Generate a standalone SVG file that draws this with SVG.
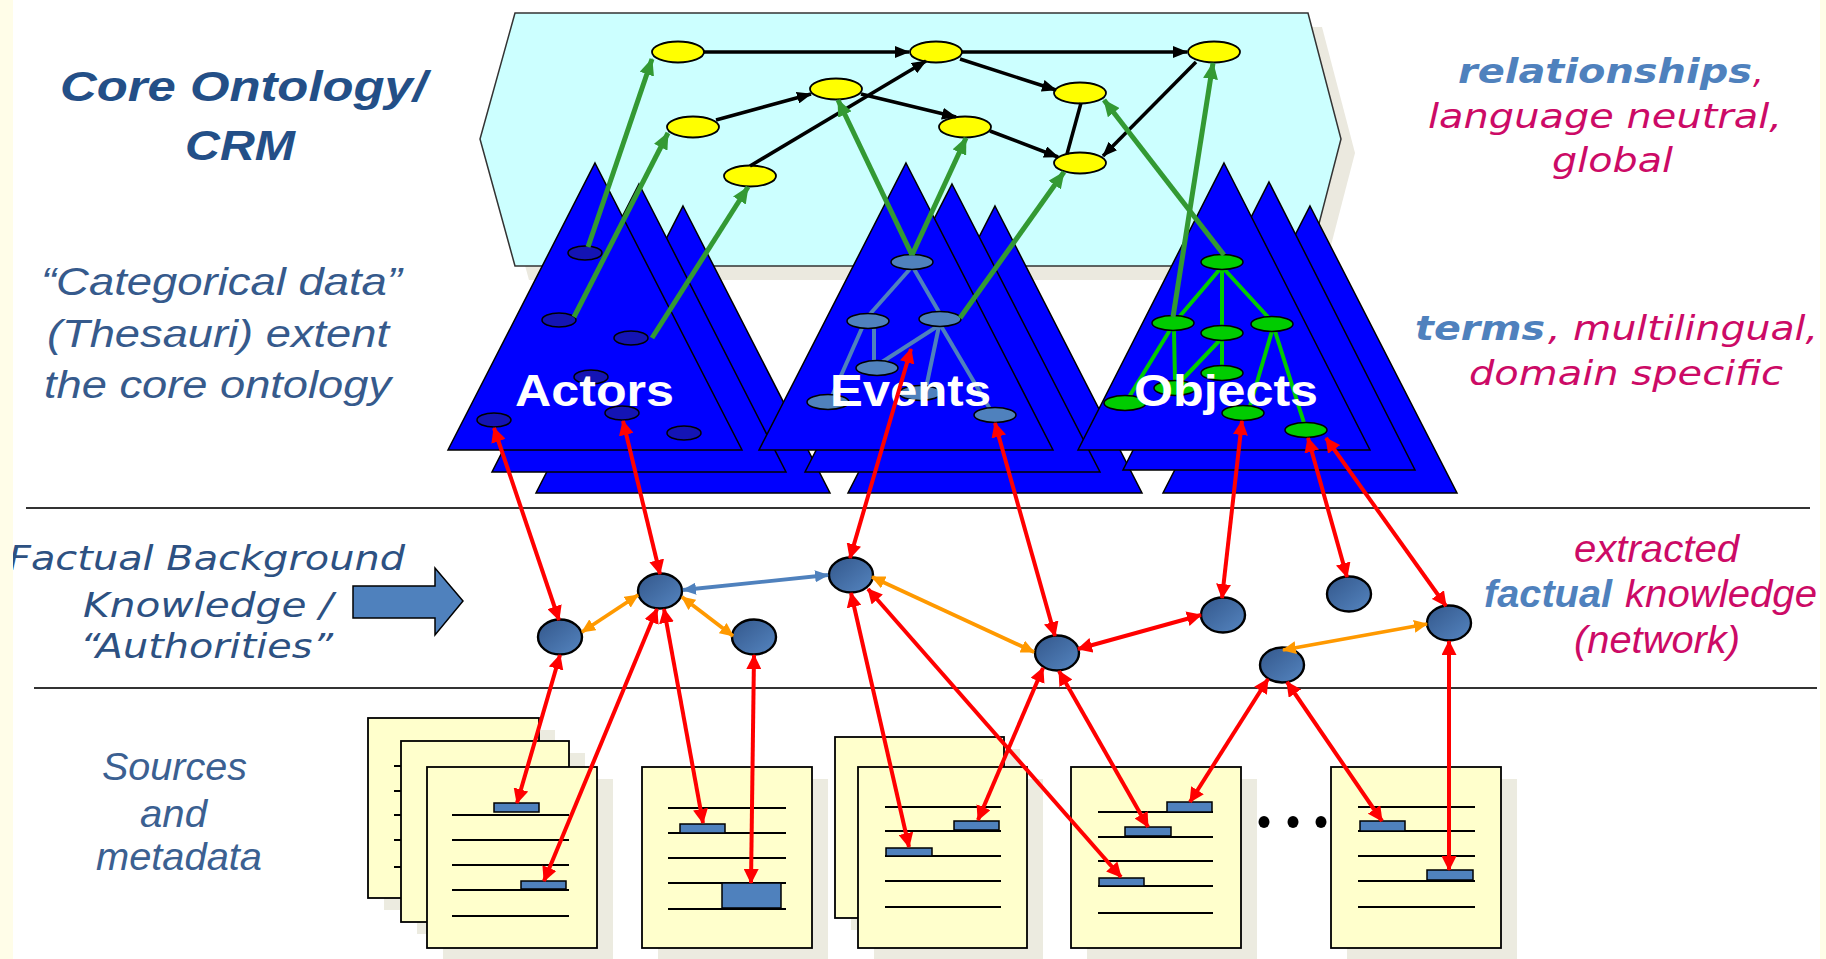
<svg xmlns="http://www.w3.org/2000/svg" width="1826" height="959" viewBox="0 0 1826 959">
<defs>
<style>
.tri{fill:#0000ff;stroke:#000;stroke-width:1.5;stroke-linejoin:miter}
.yel{fill:#ffff00;stroke:#000;stroke-width:1.8}
.an{fill:#1414b4;stroke:#000;stroke-width:1.5}
.en{fill:#4f81bd;stroke:#000;stroke-width:1.5}
.on{fill:#00cc00;stroke:#000;stroke-width:1.5}
.ee{stroke:#4f81bd;stroke-width:4;fill:none}
.oe{stroke:#00cc00;stroke-width:4;fill:none}
.mid{fill:url(#mg);stroke:#000;stroke-width:2.4}
.doc{fill:#ffffcc;stroke:#000;stroke-width:1.8}
.sh{fill:#ecebe0}
.dl{stroke:#000;stroke-width:2}
.bar{fill:#4f81bd;stroke:#000;stroke-width:1.5}
.red{stroke:#ff0000;stroke-width:4;fill:none;marker-start:url(#mr);marker-end:url(#mr)}
.org{stroke:#ff9900;stroke-width:3.8;fill:none;marker-start:url(#mo);marker-end:url(#mo)}
.blu{stroke:#4f81bd;stroke-width:3.8;fill:none;marker-start:url(#mb);marker-end:url(#mb)}
.grn{stroke:#339933;stroke-width:5;fill:none;marker-end:url(#mgr)}
.blk{stroke:#000;stroke-width:3.5;fill:none;marker-end:url(#mk)}
.blk0{stroke:#000;stroke-width:3.5;fill:none}
.ar{font-family:"Liberation Sans",Arial,sans-serif;font-style:italic}
.dv{font-family:"DejaVu Sans",Verdana,sans-serif;font-style:oblique;font-size:34px}
.lab{font-family:"Liberation Sans",Arial,sans-serif;font-weight:bold;font-size:44px;fill:#fff}
.mag{fill:#cc0a66}
.kb{fill:#4f81bd;font-weight:bold}
</style>
<linearGradient id="mg" x1="0" y1="0" x2="1" y2="1">
<stop offset="0" stop-color="#33578b"/>
<stop offset="1" stop-color="#5585c0"/>
</linearGradient>
<marker id="mr" viewBox="0 0 15 15" refX="14" refY="7.5" markerWidth="15" markerHeight="15" markerUnits="userSpaceOnUse" orient="auto-start-reverse"><path d="M0,0L15,7.5L0,15z" fill="#ff0000"/></marker>
<marker id="mo" viewBox="0 0 14 13" refX="13" refY="6.5" markerWidth="14" markerHeight="13" markerUnits="userSpaceOnUse" orient="auto-start-reverse"><path d="M0,0L14,6.5L0,13z" fill="#ff9900"/></marker>
<marker id="mb" viewBox="0 0 14 12" refX="13" refY="6" markerWidth="14" markerHeight="12" markerUnits="userSpaceOnUse" orient="auto-start-reverse"><path d="M0,0L14,6L0,12z" fill="#4f81bd"/></marker>
<marker id="mgr" viewBox="0 0 17 15" refX="16" refY="7.5" markerWidth="17" markerHeight="15" markerUnits="userSpaceOnUse" orient="auto"><path d="M0,0L17,7.5L0,15z" fill="#339933"/></marker>
<marker id="mk" viewBox="0 0 15 12" refX="14" refY="6" markerWidth="15" markerHeight="12" markerUnits="userSpaceOnUse" orient="auto"><path d="M0,0L15,6L0,12z" fill="#000"/></marker>
</defs>

<rect x="0" y="0" width="1826" height="959" fill="#ffffff"/>

<!-- core ontology box -->
<g id="core-box">
<polygon points="529,27 1322,27 1355,153 1322,280 529,280 494,153" fill="#ebe9df"/>
<polygon points="515,13 1308,13 1341,139 1308,266 515,266 480,139" fill="#ccffff" stroke="#333" stroke-width="1.5"/>
</g>

<!-- separators -->
<g id="separators" stroke="#333" stroke-width="2.2">
<line x1="26" y1="508" x2="1810" y2="508"/>
<line x1="34" y1="688" x2="1817" y2="688"/>
</g>

<!-- Actors -->
<g id="actors">
<polygon class="tri" points="683,206 830,493 536,493"/>
<polygon class="tri" points="639,184 786,472 492,472"/>
<polygon class="tri" points="595,163 742,450 448,450"/>
<ellipse class="an" cx="585" cy="253" rx="17" ry="7"/>
<ellipse class="an" cx="559" cy="320" rx="17" ry="7"/>
<ellipse class="an" cx="631" cy="338" rx="17" ry="7"/>
<ellipse class="an" cx="591" cy="377" rx="17" ry="7"/>
<ellipse class="an" cx="494" cy="420" rx="17" ry="7"/>
<ellipse class="an" cx="622" cy="413" rx="17" ry="7"/>
<ellipse class="an" cx="684" cy="433" rx="17" ry="7"/>
<text class="lab" x="515" y="406" textLength="159" lengthAdjust="spacingAndGlyphs">Actors</text>
</g>

<!-- Events -->
<g id="events">
<polygon class="tri" points="995,206 1142,493 848,493"/>
<polygon class="tri" points="952,184 1100,472 805,472"/>
<polygon class="tri" points="906,163 1053,450 759,450"/>
<line class="ee" x1="910" y1="269" x2="870" y2="314"/>
<line class="ee" x1="914" y1="269" x2="939" y2="312"/>
<line class="ee" x1="874" y1="328" x2="874" y2="362"/>
<line class="ee" x1="862" y1="328" x2="832" y2="396"/>
<line class="ee" x1="938" y1="326" x2="882" y2="362"/>
<line class="ee" x1="939" y1="326" x2="926" y2="388"/>
<line class="ee" x1="941" y1="326" x2="990" y2="409"/>
<ellipse class="en" cx="912" cy="262" rx="21" ry="7.5"/>
<ellipse class="en" cx="868" cy="321" rx="21" ry="7.5"/>
<ellipse class="en" cx="940" cy="319" rx="21" ry="7.5"/>
<ellipse class="en" cx="877" cy="368" rx="21" ry="7.5"/>
<ellipse class="en" cx="828" cy="402" rx="21" ry="7.5"/>
<ellipse class="en" cx="920" cy="393" rx="21" ry="7.5"/>
<ellipse class="en" cx="995" cy="415" rx="21" ry="7.5"/>
<text class="lab" x="830" y="406" textLength="161" lengthAdjust="spacingAndGlyphs">Events</text>
</g>

<!-- Objects -->
<g id="objects">
<polygon class="tri" points="1310,206 1457,493 1163,493"/>
<polygon class="tri" points="1269,182 1415,470 1123,470"/>
<polygon class="tri" points="1224,163 1370,450 1078,450"/>
<line class="oe" x1="1220" y1="269" x2="1180" y2="316"/>
<line class="oe" x1="1222" y1="269" x2="1222" y2="326"/>
<line class="oe" x1="1224" y1="269" x2="1268" y2="317"/>
<line class="oe" x1="1170" y1="330" x2="1129" y2="397"/>
<line class="oe" x1="1174" y1="330" x2="1175" y2="381"/>
<line class="oe" x1="1220" y1="340" x2="1180" y2="382"/>
<line class="oe" x1="1222" y1="340" x2="1222" y2="366"/>
<line class="oe" x1="1272" y1="331" x2="1250" y2="406"/>
<line class="oe" x1="1275" y1="331" x2="1304" y2="423"/>
<ellipse class="on" cx="1222" cy="262" rx="21" ry="7.5"/>
<ellipse class="on" cx="1173" cy="323" rx="21" ry="7.5"/>
<ellipse class="on" cx="1222" cy="333" rx="21" ry="7.5"/>
<ellipse class="on" cx="1272" cy="324" rx="21" ry="7.5"/>
<ellipse class="on" cx="1222" cy="373" rx="21" ry="7.5"/>
<ellipse class="on" cx="1175" cy="388" rx="21" ry="7.5"/>
<ellipse class="on" cx="1125" cy="403" rx="21" ry="7.5"/>
<ellipse class="on" cx="1243" cy="413" rx="21" ry="7.5"/>
<ellipse class="on" cx="1306" cy="430" rx="21" ry="7.5"/>
<text class="lab" x="1134" y="406" textLength="184" lengthAdjust="spacingAndGlyphs">Objects</text>
</g>

<!-- yellow core nodes -->
<g id="core-a"><ellipse class="yel" cx="678" cy="52" rx="26" ry="10.5"/></g>
<g id="core-b"><ellipse class="yel" cx="936" cy="52" rx="26" ry="10.5"/></g>
<g id="core-c"><ellipse class="yel" cx="1214" cy="52" rx="26" ry="10.5"/></g>
<g id="core-d"><ellipse class="yel" cx="836" cy="89" rx="26" ry="10.5"/></g>
<g id="core-e"><ellipse class="yel" cx="693" cy="127" rx="26" ry="10.5"/></g>
<g id="core-f"><ellipse class="yel" cx="1080" cy="93" rx="26" ry="10.5"/></g>
<g id="core-g"><ellipse class="yel" cx="965" cy="127" rx="26" ry="10.5"/></g>
<g id="core-h"><ellipse class="yel" cx="750" cy="176" rx="26" ry="10.5"/></g>
<g id="core-i"><ellipse class="yel" cx="1080" cy="163" rx="26" ry="10.5"/></g>

<!-- middle layer nodes -->
<g id="m1"><ellipse class="mid" cx="560" cy="637" rx="22" ry="17.5"/></g>
<g id="m2"><ellipse class="mid" cx="660" cy="591" rx="22" ry="17.5"/></g>
<g id="m3"><ellipse class="mid" cx="754" cy="637" rx="22" ry="17.5"/></g>
<g id="m4"><ellipse class="mid" cx="851" cy="575" rx="22" ry="17.5"/></g>
<g id="m5"><ellipse class="mid" cx="1057" cy="653" rx="22" ry="17.5"/></g>
<g id="m6"><ellipse class="mid" cx="1223" cy="615" rx="22" ry="17.5"/></g>
<g id="m7"><ellipse class="mid" cx="1282" cy="665" rx="22" ry="17.5"/></g>
<g id="m8"><ellipse class="mid" cx="1349" cy="594" rx="22" ry="17.5"/></g>
<g id="m9"><ellipse class="mid" cx="1449" cy="623" rx="22" ry="17.5"/></g>

<!-- documents -->
<g id="doc1">
<rect class="sh" x="384" y="730" width="171" height="180"/>
<rect class="doc" x="368" y="718" width="171" height="180"/>
<rect class="sh" x="417" y="753" width="168" height="181"/>
<rect class="doc" x="401" y="741" width="168" height="181"/>
<g class="dl"><line x1="394" y1="766" x2="401" y2="766"/><line x1="394" y1="791" x2="401" y2="791"/><line x1="394" y1="815" x2="401" y2="815"/><line x1="394" y1="840" x2="401" y2="840"/><line x1="394" y1="867" x2="401" y2="867"/></g>
<rect class="sh" x="443" y="779" width="170" height="181"/>
<rect class="doc" x="427" y="767" width="170" height="181"/>
<g class="dl"><line x1="452" y1="815" x2="569" y2="815"/><line x1="452" y1="840" x2="569" y2="840"/><line x1="452" y1="865" x2="569" y2="865"/><line x1="452" y1="890" x2="569" y2="890"/><line x1="452" y1="916" x2="569" y2="916"/></g>
<rect class="bar" x="494" y="803" width="45" height="9"/>
<rect class="bar" x="521" y="881" width="45" height="8"/>
</g>
<g id="doc2">
<rect class="sh" x="658" y="779" width="170" height="181"/>
<rect class="doc" x="642" y="767" width="170" height="181"/>
<g class="dl"><line x1="668" y1="808" x2="786" y2="808"/><line x1="668" y1="833" x2="786" y2="833"/><line x1="668" y1="858" x2="786" y2="858"/><line x1="668" y1="883" x2="786" y2="883"/><line x1="668" y1="909" x2="786" y2="909"/></g>
<rect class="bar" x="680" y="824" width="45" height="9"/>
<rect class="bar" x="722" y="883" width="59" height="25"/>
</g>
<g id="doc3">
<rect class="sh" x="851" y="749" width="169" height="181"/>
<rect class="doc" x="835" y="737" width="169" height="181"/>
<rect class="sh" x="874" y="779" width="169" height="181"/>
<rect class="doc" x="858" y="767" width="169" height="181"/>
<g class="dl"><line x1="885" y1="807" x2="1001" y2="807"/><line x1="885" y1="831" x2="1001" y2="831"/><line x1="885" y1="856" x2="1001" y2="856"/><line x1="885" y1="881" x2="1001" y2="881"/><line x1="885" y1="907" x2="1001" y2="907"/></g>
<rect class="bar" x="954" y="821" width="45" height="9"/>
<rect class="bar" x="886" y="848" width="46" height="8"/>
</g>
<g id="doc4">
<rect class="sh" x="1087" y="779" width="170" height="181"/>
<rect class="doc" x="1071" y="767" width="170" height="181"/>
<g class="dl"><line x1="1098" y1="812" x2="1213" y2="812"/><line x1="1098" y1="837" x2="1213" y2="837"/><line x1="1098" y1="861" x2="1213" y2="861"/><line x1="1098" y1="886" x2="1213" y2="886"/><line x1="1098" y1="913" x2="1213" y2="913"/></g>
<rect class="bar" x="1167" y="802" width="45" height="10"/>
<rect class="bar" x="1125" y="827" width="46" height="9"/>
<rect class="bar" x="1099" y="878" width="45" height="8"/>
</g>
<g id="ellipsis" fill="#000">
<ellipse cx="1264" cy="822" rx="5.5" ry="6"/>
<ellipse cx="1293" cy="822" rx="5.5" ry="6"/>
<ellipse cx="1321" cy="822" rx="5.5" ry="6"/>
</g>
<g id="doc5">
<rect class="sh" x="1347" y="779" width="170" height="181"/>
<rect class="doc" x="1331" y="767" width="170" height="181"/>
<g class="dl"><line x1="1358" y1="807" x2="1475" y2="807"/><line x1="1358" y1="831" x2="1475" y2="831"/><line x1="1358" y1="856" x2="1475" y2="856"/><line x1="1358" y1="881" x2="1475" y2="881"/><line x1="1358" y1="907" x2="1475" y2="907"/></g>
<rect class="bar" x="1360" y="821" width="45" height="10"/>
<rect class="bar" x="1427" y="870" width="46" height="10"/>
</g>

<!-- blue block arrow -->
<g id="kb-arrow">
<polygon points="353,586 435,586 435,568 463,601 435,635 435,618 353,618" fill="#4f81bd" stroke="#000" stroke-width="1.5"/>
</g>

<!-- connectors -->
<g id="connectors">
<line class="blk" x1="704" y1="52" x2="909" y2="52"/>
<line class="blk" x1="962" y1="52" x2="1187" y2="52"/>
<line class="blk" x1="716" y1="120" x2="811" y2="94"/>
<line class="blk" x1="750" y1="166" x2="926" y2="61"/>
<line class="blk" x1="861" y1="94" x2="956" y2="117"/>
<line class="blk" x1="960" y1="59" x2="1056" y2="90"/>
<line class="blk" x1="990" y1="131" x2="1058" y2="157"/>
<line class="blk0" x1="1081" y1="103" x2="1067" y2="154"/>
<line class="blk" x1="1196" y1="62" x2="1103" y2="156"/>

<line class="grn" x1="588" y1="247" x2="652" y2="59"/>
<line class="grn" x1="574" y1="317" x2="668" y2="133"/>
<line class="grn" x1="652" y1="338" x2="748" y2="187"/>
<line class="grn" x1="912" y1="255" x2="838" y2="100"/>
<line class="grn" x1="912" y1="255" x2="966" y2="138"/>
<line class="grn" x1="960" y1="318" x2="1064" y2="172"/>
<line class="grn" x1="1224" y1="255" x2="1104" y2="100"/>
<line class="grn" x1="1173" y1="317" x2="1213" y2="63"/>

<line class="org" x1="582" y1="632" x2="638" y2="595"/>
<line class="org" x1="682" y1="597" x2="733" y2="636"/>
<line class="org" x1="872" y1="577" x2="1034" y2="652"/>
<line class="org" x1="1283" y1="650" x2="1427" y2="624"/>
<line class="blu" x1="683" y1="590" x2="828" y2="575"/>

<line class="red" x1="494" y1="428" x2="559" y2="620"/>
<line class="red" x1="623" y1="421" x2="660" y2="574"/>
<line class="red" x1="911" y1="349" x2="850" y2="558"/>
<line class="red" x1="995" y1="423" x2="1055" y2="636"/>
<line class="red" x1="1242" y1="421" x2="1222" y2="598"/>
<line class="red" x1="1308" y1="438" x2="1347" y2="577"/>
<line class="red" x1="1326" y1="438" x2="1446" y2="606"/>
<line class="red" x1="1078" y1="649" x2="1201" y2="615"/>
<line class="red" x1="560" y1="655" x2="517" y2="803"/>
<line class="red" x1="657" y1="609" x2="544" y2="881"/>
<line class="red" x1="664" y1="609" x2="703" y2="823"/>
<line class="red" x1="754" y1="655" x2="751" y2="883"/>
<line class="red" x1="851" y1="593" x2="909" y2="847"/>
<line class="red" x1="868" y1="589" x2="1121" y2="877"/>
<line class="red" x1="1043" y1="668" x2="978" y2="820"/>
<line class="red" x1="1059" y1="671" x2="1148" y2="827"/>
<line class="red" x1="1268" y1="679" x2="1190" y2="802"/>
<line class="red" x1="1287" y1="682" x2="1382" y2="821"/>
<line class="red" x1="1449" y1="641" x2="1449" y2="870"/>
</g>

<!-- texts -->
<g id="labels">
<text class="ar" x="60" y="101" font-size="42" font-weight="bold" fill="#234f87" textLength="367" lengthAdjust="spacingAndGlyphs">Core Ontology/</text>
<text class="ar" x="185" y="160" font-size="42" font-weight="bold" fill="#234f87" textLength="110" lengthAdjust="spacingAndGlyphs">CRM</text>
<text class="ar" x="41" y="295" font-size="39" fill="#365a8c" textLength="361" lengthAdjust="spacingAndGlyphs">“Categorical data”</text>
<text class="ar" x="47" y="347" font-size="39" fill="#365a8c" textLength="342" lengthAdjust="spacingAndGlyphs">(Thesauri) extent</text>
<text class="ar" x="44" y="398" font-size="39" fill="#365a8c" textLength="347" lengthAdjust="spacingAndGlyphs">the core ontology</text>

<text class="dv kb" x="1458" y="83" textLength="294" lengthAdjust="spacingAndGlyphs">relationships</text>
<text class="dv mag" x="1753" y="83">,</text>
<text class="dv mag" x="1428" y="128" textLength="354" lengthAdjust="spacingAndGlyphs">language neutral,</text>
<text class="dv mag" x="1552" y="172" textLength="121" lengthAdjust="spacingAndGlyphs">global</text>
<text class="dv kb" x="1415" y="340" textLength="130" lengthAdjust="spacingAndGlyphs">terms</text>
<text class="dv mag" x="1548" y="340" textLength="270" lengthAdjust="spacingAndGlyphs">, multilingual,</text>
<text class="dv mag" x="1469" y="385" textLength="314" lengthAdjust="spacingAndGlyphs">domain specific</text>

<text class="dv" x="8" y="570" fill="#2d5182" textLength="397" lengthAdjust="spacingAndGlyphs">Factual Background</text>
<text class="dv" x="83" y="617" fill="#2d5182" textLength="250" lengthAdjust="spacingAndGlyphs">Knowledge /</text>
<text class="dv" x="80" y="658" fill="#2d5182" textLength="253" lengthAdjust="spacingAndGlyphs">“Authorities”</text>

<text class="ar mag" x="1574" y="562" font-size="38" textLength="165" lengthAdjust="spacingAndGlyphs">extracted</text>
<text class="ar kb" x="1484" y="607" font-size="38" textLength="128" lengthAdjust="spacingAndGlyphs">factual</text>
<text class="ar mag" x="1625" y="607" font-size="38" textLength="192" lengthAdjust="spacingAndGlyphs">knowledge</text>
<text class="ar mag" x="1574" y="653" font-size="38" textLength="166" lengthAdjust="spacingAndGlyphs">(network)</text>

<text class="ar" x="102" y="780" font-size="38" fill="#3b6091" textLength="145" lengthAdjust="spacingAndGlyphs">Sources</text>
<text class="ar" x="140" y="827" font-size="38" fill="#3b6091" textLength="67" lengthAdjust="spacingAndGlyphs">and</text>
<text class="ar" x="96" y="870" font-size="38" fill="#3b6091" textLength="166" lengthAdjust="spacingAndGlyphs">metadata</text>
</g>

<!-- edge strips -->
<rect x="0" y="0" width="13" height="959" fill="#fffde8"/>
<rect x="1820" y="0" width="6" height="959" fill="#fffde8"/>
</svg>
